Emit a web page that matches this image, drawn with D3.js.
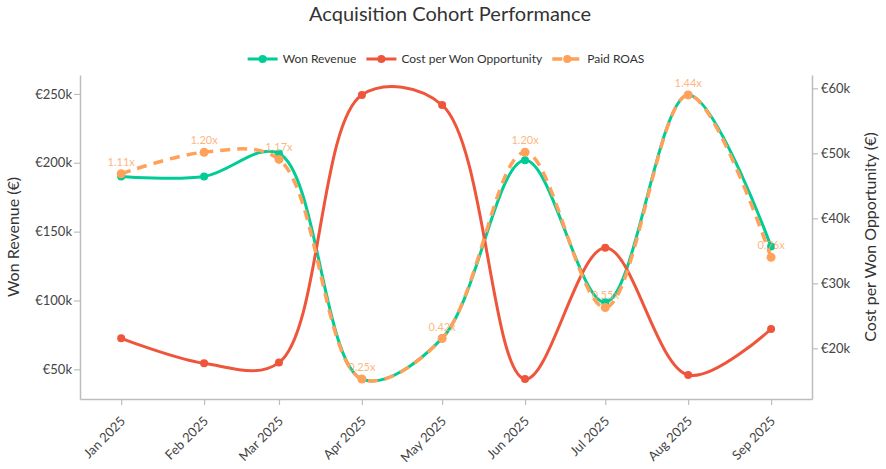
<!DOCTYPE html>
<html>
<head>
<meta charset="utf-8">
<script src="https://cdn.jsdelivr.net/npm/d3@7"></script>
<style>
  html, body { margin: 0; padding: 0; background: #fff; }
  svg { display: block; font-family: Lato, "Open Sans", sans-serif; }
</style>
</head>
<body>
<svg id="chart" width="886" height="469"></svg>
<script>
// ---- Data ----
const months = ["2025-01", "2025-02", "2025-03", "2025-04", "2025-05", "2025-06", "2025-07", "2025-08", "2025-09"];
const wonRevenue = [190000, 190000, 206800, 42900, 72500, 201800, 98700, 249300, 139200];
const costPerWon = [21540, 17700, 17800, 58990, 57430, 15260, 35480, 15890, 22970];
const paidRoas = [1.11, 1.20, 1.17, 0.25, 0.42, 1.20, 0.55, 1.44, 0.76];
const leftTicks = [50000, 100000, 150000, 200000, 250000];
const rightTicks = [20000, 30000, 40000, 50000, 60000];
const seriesNames = ["Won Revenue", "Cost per Won Opportunity", "Paid ROAS"];

const colors = { won: "#00cc96", cost: "#EF553B", roas: "#FFA15A" };

const svg = d3.select("#chart");
const plot = { left: 80, right: 812, top: 75, bottom: 399 };

const parse = d3.timeParse("%Y-%m");
const dates = months.map(parse);

// x: time scale with padding around the first/last month
const dayMs = 864e5;
const x = d3.scaleTime()
  .domain([new Date(+dates[0] - 15.4 * dayMs), new Date(+dates[dates.length - 1] + 15.3 * dayMs)])
  .range([plot.left, plot.right]);

function padded(vals, frac) {
  const [mn, mx] = d3.extent(vals);
  const p = (mx - mn) * frac;
  return [mn - p, mx + p];
}
const yL = d3.scaleLinear().domain(padded(wonRevenue, 0.07)).range([plot.bottom, plot.top]);
const yR = d3.scaleLinear().domain(padded(costPerWon, 0.07)).range([plot.bottom, plot.top]);
const yRoas = d3.scaleLinear().domain(padded(paidRoas, 0.07)).range([plot.bottom, plot.top]);

const axisColor = "#bdbdbd";
const tickText = "#444";

// Title
svg.append("text")
  .attr("x", 450).attr("y", 21)
  .attr("text-anchor", "middle")
  .attr("font-size", 20)
  .attr("fill", "#333")
  .text("Acquisition Cohort Performance");

// Axes
const fmtK = v => "€" + (v / 1000) + "k";

const gx = svg.append("g").attr("transform", `translate(0,${plot.bottom})`)
  .call(d3.axisBottom(x).tickValues(dates).tickSize(6).tickSizeOuter(0).tickFormat(""));
const gl = svg.append("g").attr("transform", `translate(${plot.left},0)`)
  .call(d3.axisLeft(yL).tickValues(leftTicks).tickSize(6).tickSizeOuter(0).tickFormat(fmtK));
const gr = svg.append("g").attr("transform", `translate(${plot.right},0)`)
  .call(d3.axisRight(yR).tickValues(rightTicks).tickSize(6).tickSizeOuter(0).tickFormat(fmtK));

[gx, gl, gr].forEach(g => {
  g.select(".domain").attr("stroke", axisColor).attr("stroke-width", 1.5);
  g.selectAll(".tick line").attr("stroke", axisColor).attr("stroke-width", 1.2);
  g.selectAll(".tick text").attr("fill", tickText).attr("font-size", 13).attr("font-family", "Lato, 'Open Sans', sans-serif");
});
gl.selectAll(".tick text").attr("x", -8);
gr.selectAll(".tick text").attr("x", 9);

// x labels rotated
const fmtMonth = d3.timeFormat("%b %Y");
svg.append("g").selectAll("text").data(dates).join("text")
  .attr("transform", d => `translate(${x(d) + 5},${plot.bottom + 23}) rotate(-45)`)
  .attr("text-anchor", "end")
  .attr("font-size", 13)
  .attr("fill", tickText)
  .text(d => fmtMonth(d));

// Axis titles
svg.append("text")
  .attr("transform", `translate(19,${(plot.top + plot.bottom) / 2}) rotate(-90)`)
  .attr("text-anchor", "middle")
  .attr("font-size", 16)
  .attr("fill", "#333")
  .text("Won Revenue (€)");
svg.append("text")
  .attr("transform", `translate(876,${(plot.top + plot.bottom) / 2}) rotate(-90)`)
  .attr("text-anchor", "middle")
  .attr("font-size", 16)
  .attr("fill", "#333")
  .text("Cost per Won Opportunity (€)");

// Lines
const curve = d3.curveCatmullRom.alpha(0.5);
function drawSeries(vals, yScale, color, opts) {
  const pts = vals.map((v, i) => [x(dates[i]), yScale(v)]);
  const line = d3.line().curve(curve);
  const g = svg.append("g");
  g.append("path")
    .attr("d", line(pts))
    .attr("fill", "none")
    .attr("stroke", color)
    .attr("stroke-width", opts.width)
    .attr("stroke-dasharray", opts.dash || null);
  g.selectAll("circle").data(pts).join("circle")
    .attr("cx", d => d[0]).attr("cy", d => d[1])
    .attr("r", opts.r)
    .attr("fill", color);
  return g;
}
drawSeries(wonRevenue, yL, colors.won, { width: 3, r: 4 });
drawSeries(costPerWon, yR, colors.cost, { width: 3, r: 4 });
drawSeries(paidRoas, yRoas, colors.roas, { width: 3.5, r: 4.5, dash: "10,7" });

// ROAS labels
svg.append("g").selectAll("text").data(paidRoas).join("text")
  .attr("x", (d, i) => x(dates[i]))
  .attr("y", d => yRoas(d) - 8)
  .attr("text-anchor", "middle")
  .attr("font-size", 11)
  .attr("fill", colors.roas)
  .attr("fill-opacity", 0.8)
  .text(d => d.toFixed(2) + "x");

// Legend
const legend = svg.append("g");
const legendColors = [colors.won, colors.cost, colors.roas];
let cx = 0;
seriesNames.forEach((name, i) => {
  const g = legend.append("g");
  g.append("line").attr("x1", 0).attr("x2", 30).attr("y1", 0).attr("y2", 0)
    .attr("stroke", legendColors[i]).attr("stroke-width", i === 2 ? 3.5 : 3)
    .attr("stroke-dasharray", i === 2 ? "10,7" : null);
  g.append("circle").attr("cx", 15).attr("cy", 0).attr("r", 4).attr("fill", legendColors[i]);
  const t = g.append("text").attr("x", 35).attr("y", 4.3)
    .attr("font-size", 12).attr("fill", "#333").text(name);
  const w = 35 + t.node().getComputedTextLength();
  g.attr("transform", `translate(${cx},0)`);
  cx += w + 10;
});
const totalW = cx - 10;
legend.attr("transform", `translate(${446 - totalW / 2},59)`);
</script>
</body>
</html>
